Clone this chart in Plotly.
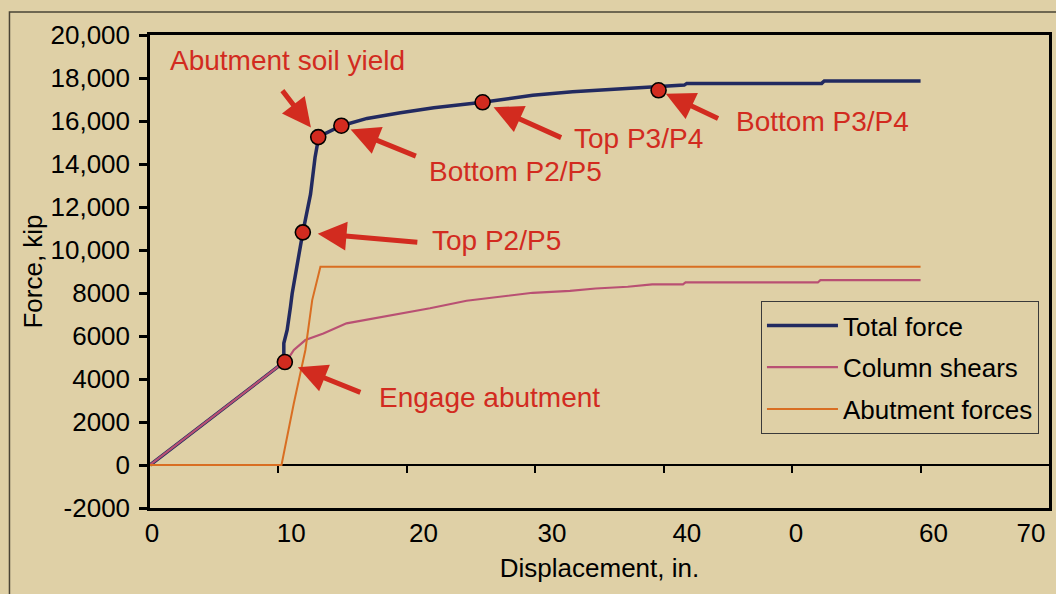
import plotly.graph_objects as go

# ---------------- data ----------------
disp_total = [0, 2.5, 5.0, 7.5, 10.42, 10.42, 10.68, 10.94, 11.07, 11.9, 12.5, 12.85, 13.14,
              14.9, 16.9, 19.5, 22.1, 25.9, 29.8, 32.9, 37.6, 39.6, 41.6, 41.8, 52.3, 52.5, 60.0]
force_total = [0, 1150, 2300, 3450, 4780, 5660, 6280, 7360, 7980, 10820, 12600, 14300, 15270,
               15780, 16120, 16380, 16620, 16870, 17200, 17360, 17520, 17600, 17670, 17750, 17750, 17860, 17860]

disp_column = [0, 2.5, 5.0, 7.5, 10.42, 10.94, 11.2, 12.1, 13.5, 15.3, 17.15, 19.2, 21.8, 24.65,
               27.5, 29.8, 32.7, 34.7, 37.2, 39.1, 41.5, 41.7, 52.0, 52.2, 60.0]
force_column = [0, 1150, 2300, 3450, 4780, 5115, 5350, 5810, 6120, 6590, 6790, 7020, 7290, 7640,
                7830, 8010, 8100, 8210, 8290, 8400, 8400, 8490, 8490, 8600, 8600]

disp_abutment = [0, 10.24, 11.2, 11.85, 12.1, 12.63, 12.75, 13.27, 60.0]
force_abutment = [0, 0, 2870, 4730, 5350, 7670, 7980, 9220, 9220]

event_disp = [10.5, 11.9, 13.1, 14.9, 25.9, 39.6]
event_force = [4790, 10820, 15250, 15780, 16870, 17430]
event_labels = ["Engage abutment", "Top P2/P5", "Abutment soil yield",
                "Bottom P2/P5", "Top P3/P4", "Bottom P3/P4"]

x_tick_labels = ["0", "10", "20", "30", "40", "0", "60", "70"]
x_minor_ticks = [10, 20, 30, 40, 50, 60]
y_tick_values = [-2000, 0, 2000, 4000, 6000, 8000, 10000, 12000, 14000, 16000, 18000, 20000]
y_tick_labels = ["-2000", "0", "2000", "4000", "6000", "8000",
                 "10,000", "12,000", "14,000", "16,000", "18,000", "20,000"]

# ---------------- styling / layout ----------------
FONT = "Liberation Sans, Arial, Helvetica, sans-serif"
BG = "#DFD0A6"
NAVY = "#222A60"
PINK = "#B95073"
ORANGE = "#D96E22"
RED = "#D22B1F"

# where the x tick labels sit in the original (they are not centred on the ticks)
x_label_pos = [0.16, 11.0, 21.3, 31.3, 41.8, 50.3, 61.0, 68.6]

# arrow tail offsets (px) and standoffs for each event
arrow_style = {
    "Engage abutment": (77, 31, 14),
    "Top P2/P5": (116, 10, 15),
    "Abutment soil yield": (-37, -48, 12),
    "Bottom P2/P5": (76, 31, 10),
    "Top P3/P4": (80, 36, 12),
    "Bottom P3/P4": (61, 29, 8),
}
# label text centres (data coordinates)
text_pos = {
    "Engage abutment": (26.46, 3160),
    "Top P2/P5": (27.0, 10465),
    "Abutment soil yield": (10.69, 18837),
    "Bottom P2/P5": (28.48, 13642),
    "Top P3/P4": (38.03, 15195),
    "Bottom P3/P4": (52.36, 15967),
}

fig = go.Figure()
fig.add_trace(go.Scatter(x=disp_total, y=force_total, mode="lines", name="Total force",
                         legendgroup="a", line=dict(color=NAVY, width=3.5)))
fig.add_trace(go.Scatter(x=disp_column, y=force_column, mode="lines", name="Column shears",
                         legendgroup="b", line=dict(color=PINK, width=2.2)))
fig.add_trace(go.Scatter(x=disp_abutment, y=force_abutment, mode="lines", name="Abutment forces",
                         legendgroup="c", line=dict(color=ORANGE, width=2)))
fig.add_trace(go.Scatter(x=event_disp, y=event_force, mode="markers", showlegend=False,
                         marker=dict(size=15, color=RED, line=dict(color="black", width=1.6))))
# invisible helper so the zero-line axis (with its ticks) is drawn
fig.add_trace(go.Scatter(x=[0], y=[0], xaxis="x2", yaxis="y", mode="markers",
                         marker=dict(opacity=0), showlegend=False, hoverinfo="skip"))

annotations = []
for lbl, xv, yv in zip(event_labels, event_disp, event_force):
    ax, ay, so = arrow_style[lbl]
    annotations.append(dict(x=xv, y=yv, xref="x", yref="y", text="", showarrow=True,
                            ax=ax, ay=ay, standoff=so, arrowhead=2, arrowsize=1.15,
                            arrowwidth=5, arrowcolor=RED))
    tx, ty = text_pos[lbl]
    annotations.append(dict(x=tx, y=ty, xref="x", yref="y", text=lbl, showarrow=False,
                            font=dict(family=FONT, size=28, color=RED)))

fig.update_layout(
    width=1056, height=594,
    margin=dict(l=150, r=4, t=35, b=86, pad=0),
    paper_bgcolor=BG, plot_bgcolor=BG,
    font=dict(family=FONT, size=26, color="black"),
    showlegend=True,
    legend=dict(x=(763 - 150) / 902, y=0.4376, xanchor="left", yanchor="top",
                bgcolor=BG, bordercolor="#3a3a3a", borderwidth=1,
                font=dict(family=FONT, size=26, color="black"),
                itemwidth=71, traceorder="grouped", tracegroupgap=5),
    xaxis=dict(range=[0, 70], tickmode="array", tickvals=x_label_pos, ticktext=x_tick_labels,
               ticks="", showgrid=False, zeroline=False, showline=True, linecolor="black",
               linewidth=2.5, mirror=True, ticklabelstandoff=0,
               title=dict(text="Displacement, in.", font=dict(size=26), standoff=12)),
    xaxis2=dict(range=[0, 70], overlaying="x", anchor="free", position=2000 / 22000,
                side="bottom", tickmode="array", tickvals=x_minor_ticks,
                ticks="outside", ticklen=7, tickwidth=2, tickcolor="black",
                showticklabels=False, showgrid=False, zeroline=False, showline=True,
                linecolor="black", linewidth=2, layer="below traces"),
    yaxis=dict(range=[-2000, 20000], tickmode="array", tickvals=y_tick_values,
               ticktext=y_tick_labels, ticks="outside", ticklen=8, tickwidth=2.5,
               tickcolor="black", showgrid=False, zeroline=False, showline=True,
               linecolor="black", linewidth=2.5, mirror=True, ticklabelstandoff=4,
               title=dict(text="Force, kip", font=dict(size=26), standoff=1)),
    annotations=annotations,
    shapes=[dict(type="rect", xref="paper", yref="paper",
                 x0=(9 - 150) / 902, x1=(1075 - 150) / 902,
                 y0=(508 - 610) / 473, y1=(508 - 12) / 473,
                 line=dict(color="#4a4436", width=1.5), fillcolor="rgba(0,0,0,0)",
                 layer="below")],
)

fig.write_html("out.html")
